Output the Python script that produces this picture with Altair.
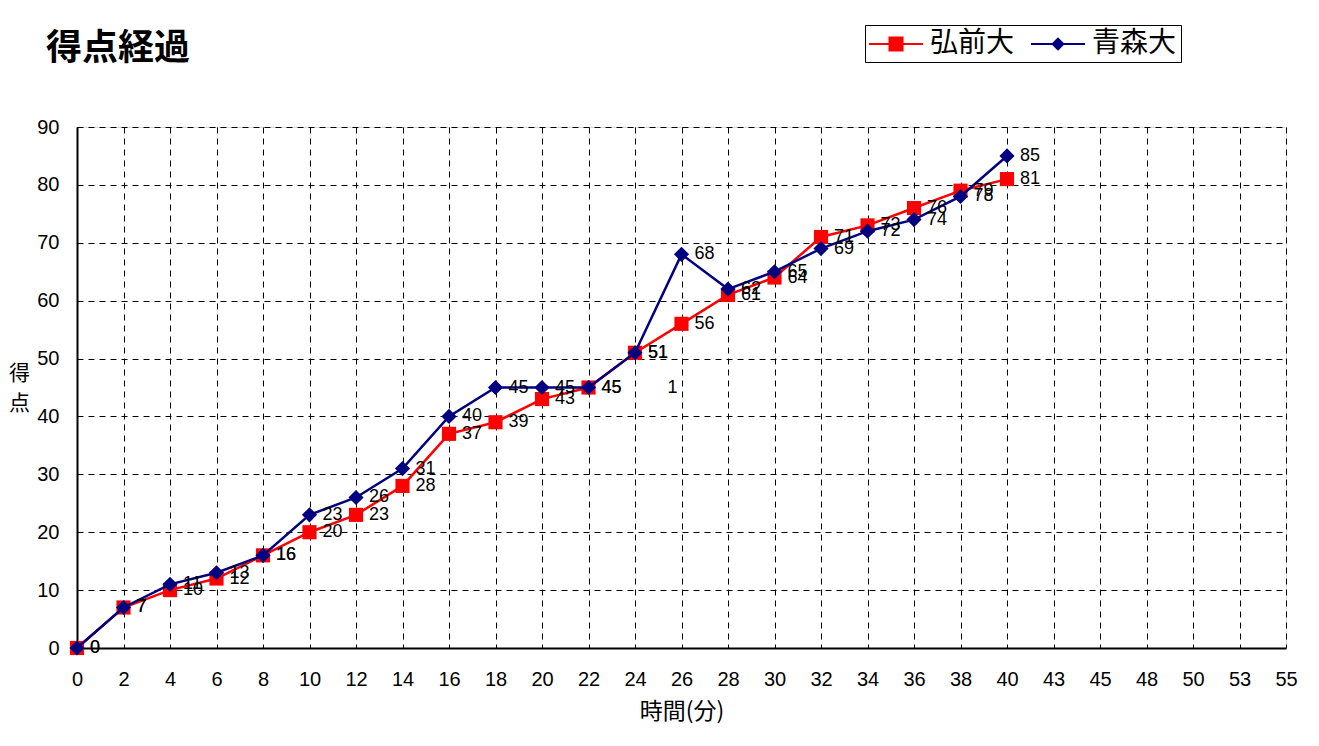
import altair as alt
import pandas as pd

# categories on the x axis (minutes)
x_categories = ["0", "2", "4", "6", "8", "10", "12", "14", "16", "18", "20", "22", "24",
                "26", "28", "30", "32", "34", "36", "38", "40", "43", "45", "48", "50", "53", "55"]
times = ["0", "2", "4", "6", "8", "10", "12", "14", "16", "18", "20", "22", "24",
         "26", "28", "30", "32", "34", "36", "38", "40"]
hirosaki = [0, 7, 10, 12, 16, 20, 23, 28, 37, 39, 43, 45, 51, 56, 61, 64, 71, 73, 76, 79, 81]
aomori = [0, 7, 11, 13, 16, 23, 26, 31, 40, 45, 45, 45, 51, 68, 62, 65, 69, 72, 74, 78, 85]
teams = ["弘前大", "青森大"]
colors = ["#FF0000", "#000080"]
markers = ["square", "diamond"]
legend_paths = [
    "M-1,-0.07H2.6V0.07H-1Z M0.3,-0.5H1.3V0.5H0.3Z",
    "M-1,-0.07H2.6V0.07H-1Z M0.8,-0.45L1.25,0L0.8,0.45L0.35,0Z",
]
# stray label seen in the chart
stray_x = ["26"]
stray_y = [45]
stray_text = ["1"]

rows = []
for team, vals in zip(teams, [hirosaki, aomori]):
    for t, v in zip(times, vals):
        rows.append({"team": team, "time": t, "score": v, "label": str(v)})
df = pd.DataFrame(rows)
stray = pd.DataFrame({"time": stray_x, "score": stray_y, "label": stray_text})

W, H = 1209, 521

x_enc = alt.X("time:N", sort=x_categories,
              scale=alt.Scale(domain=x_categories, type="point", padding=0),
              axis=alt.Axis(title="時間(分)", labelAngle=0, labelFontSize=20,
                            labelFont="Liberation Sans", labelColor="black",
                            labelPadding=21, ticks=False, tickSize=0,
                            titleFont="Noto Sans CJK JP", titleFontSize=23,
                            titleFontWeight="normal", titleColor="black",
                            titlePadding=11,
                            grid=True, gridDash=[6, 5], gridColor="black",
                            gridWidth=1, gridOpacity=1,
                            domainColor="black", domainWidth=2))
y_enc = alt.Y("score:Q",
              scale=alt.Scale(domain=[0, 90], nice=False, zero=True),
              axis=alt.Axis(title=["得", "点"], titleAngle=0, titleX=-58,
                            titleY=H / 2 - 25, titleAlign="center",
                            titleBaseline="top", titleLineHeight=30,
                            values=list(range(0, 91, 10)), labelFontSize=20,
                            labelFont="Liberation Sans", labelColor="black",
                            labelPadding=18, ticks=False, tickSize=0,
                            titleFont="Noto Sans CJK JP", titleFontSize=21,
                            titleFontWeight="normal", titleColor="black",
                            grid=True, gridDash=[6, 5], gridColor="black",
                            gridWidth=1, gridOpacity=1,
                            domainColor="black", domainWidth=2))

layers = []
for team, color, marker in zip(teams, colors, markers):
    sub = alt.Chart(df).transform_filter(alt.datum.team == team)
    layers.append(sub.mark_line(color=color, strokeWidth=2.5).encode(x=x_enc, y=y_enc))
    layers.append(sub.mark_point(shape=marker, filled=True, color=color, opacity=1,
                                 size=200 if marker == "square" else 230)
                  .encode(x=x_enc, y=y_enc))

labels = alt.Chart(df).mark_text(align="left", baseline="middle", dx=13,
                                 font="Liberation Sans", fontSize=18, color="black"
                                 ).encode(x=x_enc, y=y_enc, text="label:N")
stray_layer = alt.Chart(stray).mark_text(align="center", baseline="middle", dx=-9,
                                          font="Liberation Sans", fontSize=18, color="black"
                                          ).encode(x=x_enc, y=y_enc, text="label:N")

legend_props = dict(title=None, orient="none", legendX=788, legendY=-102,
                    direction="horizontal", labelFontSize=28,
                    labelFont="Noto Sans CJK JP", labelColor="black",
                    symbolSize=900, symbolStrokeWidth=0,
                    symbolOpacity=1, labelOffset=31,
                    columnPadding=16, padding=4,
                    strokeColor="black", fillColor="white")
legend_layer = alt.Chart(df).transform_filter(alt.datum.score < 0).mark_point(
    filled=True, opacity=1).encode(
    x=x_enc, y=y_enc,
    color=alt.Color("team:N", scale=alt.Scale(domain=teams, range=colors),
                    legend=alt.Legend(**legend_props)),
    shape=alt.Shape("team:N", scale=alt.Scale(domain=teams, range=legend_paths),
                    legend=alt.Legend(**legend_props)),
)

chart = alt.layer(*layers, labels, stray_layer, legend_layer).properties(
    width=W, height=H,
    autosize=alt.AutoSizeParams(type="none"),
    padding={"left": 69, "top": 119, "right": 25, "bottom": 90},
    title=alt.TitleParams("得点経過", anchor="start", frame="group", fontSize=36,
                          font="Noto Sans CJK JP", fontWeight="bold", color="black",
                          dx=-31, dy=43, offset=0),
).configure_view(stroke="black", strokeWidth=1.5).configure(background="white")

chart.save("out.html", embed_options={"renderer": "svg", "actions": False})
